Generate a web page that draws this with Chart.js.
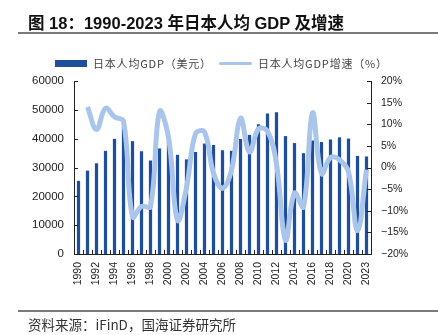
<!DOCTYPE html>
<html>
<head>
<meta charset="utf-8">
<script src="https://cdn.jsdelivr.net/npm/chart.js@4"></script>
<style>
  body { margin: 0; background: #fff; }
  #wrap { position: relative; width: 438px; height: 335px; overflow: hidden; }
  #chart { position: absolute; left: 0; top: 0; }
  #title {
    position: absolute; left: 28px; top: 10px;
    font: bold 16.5px "Liberation Sans", "Noto Sans CJK SC", sans-serif;
    color: #111; white-space: nowrap;
  }
  .rule { position: absolute; left: 18px; right: 0; height: 1.5px; background: #7a7a7a; }
  #legend {
    position: absolute; top: 53px; left: 55px; white-space: nowrap;
    font: 11px "Noto Sans CJK SC", sans-serif; color: #444; letter-spacing: 0.8px;
  }
  #legend span { display: inline-block; vertical-align: middle; }
  .swatch-bar { width: 32px; height: 7px; background: #1f4e9c; margin-right: 6px; }
  .swatch-line { width: 33px; height: 3px; background: #a9c5eb; border-radius: 2px; margin: 0 6px 0 7px; }
  #source {
    position: absolute; left: 28px; top: 314px;
    font: 13.5px "Noto Sans CJK SC", sans-serif; color: #333; white-space: nowrap;
  }
</style>
</head>
<body>
<div id="wrap">
  <canvas id="chart" width="438" height="335"></canvas>
  <div id="title">图 18：1990-2023 年日本人均 GDP 及增速</div>
  <div class="rule" style="top:32px"></div>
  <div id="legend">
    <span class="swatch-bar"></span><span>日本人均GDP（美元）</span><span class="swatch-line"></span><span>日本人均GDP增速（%）</span>
  </div>
  <div class="rule" style="top:310px"></div>
  <div id="source">资料来源：iFinD，国海证券研究所</div>
</div>
<script>
// years on the axis (2021 is not in the series)
const years = ['1990', '1991', '1992', '1993', '1994', '1995', '1996', '1997', '1998', '1999',
  '2000', '2001', '2002', '2003', '2004', '2005', '2006', '2007', '2008', '2009',
  '2010', '2011', '2012', '2013', '2014', '2015', '2016', '2017', '2018', '2019',
  '2020', '2022', '2023'];

// GDP per person, USD
const gdpUsd = [25371, 28925, 31465, 35766, 39934, 44198, 39151, 35636, 32424, 36611,
  39169, 34406, 32821, 35387, 38299, 37813, 35992, 35779, 39876, 41309,
  44968, 48760, 49145, 40898, 38475, 34961, 39375, 38834, 39727, 40458,
  40041, 34017, 33834];

// yearly growth, %
const growthPct = [null, 14.0, 8.8, 13.7, 11.7, 10.7, -11.4, -9.0, -9.0, 12.9,
  7.0, -12.2, -4.6, 7.8, 8.2, -1.3, -4.8, -0.6, 11.4, 3.6,
  8.9, 8.4, 0.8, -16.8, -5.9, -9.1, 12.6, -1.4, 2.3, 1.8,
  -1.0, -14.6, -0.5];

const barColor = '#1f4e9c';
const lineColor = '#a9c5eb';
const axisColor = '#222';

Chart.defaults.font.family = '"Liberation Sans", Arial, sans-serif';
Chart.defaults.color = '#222';

// small tick marks that point into the plot
const innerTicks = {
  id: 'innerTicks',
  afterDraw(chart) {
    const { ctx, chartArea, scales } = chart;
    const { x, y, y1 } = scales;
    ctx.save();
    ctx.strokeStyle = axisColor;
    ctx.lineWidth = 1;
    ctx.beginPath();
    const catW = x.getPixelForValue(1) - x.getPixelForValue(0);
    for (let i = 0; i <= years.length; i++) {
      const px = Math.round(x.getPixelForValue(i) - catW / 2) + 0.5;
      ctx.moveTo(px, chartArea.bottom);
      ctx.lineTo(px, chartArea.bottom - 4);
    }
    y.ticks.forEach((t) => {
      const py = Math.round(y.getPixelForValue(t.value)) + 0.5;
      ctx.moveTo(chartArea.left, py);
      ctx.lineTo(chartArea.left + 4, py);
    });
    y1.ticks.forEach((t) => {
      const py = Math.round(y1.getPixelForValue(t.value)) + 0.5;
      ctx.moveTo(chartArea.right, py);
      ctx.lineTo(chartArea.right - 4, py);
    });
    ctx.stroke();
    ctx.restore();
  }
};

const ctx = document.getElementById('chart').getContext('2d');
new Chart(ctx, {
  data: {
    labels: years,
    datasets: [
      {
        type: 'line',
        label: '日本人均GDP增速（%）',
        data: growthPct,
        yAxisID: 'y1',
        borderColor: lineColor,
        borderWidth: 5,
        pointRadius: 0,
        tension: 0.4,
        order: 0
      },
      {
        type: 'bar',
        label: '日本人均GDP（美元）',
        data: gdpUsd,
        yAxisID: 'y',
        backgroundColor: barColor,
        barPercentage: 0.36,
        categoryPercentage: 1,
        order: 1
      }
    ]
  },
  options: {
    responsive: false,
    animation: false,
    devicePixelRatio: 1,
    layout: { padding: { top: 81, left: 0, right: 0, bottom: 0 } },
    plugins: { legend: { display: false }, tooltip: { enabled: false } },
    scales: {
      x: {
        grid: { display: false, drawTicks: false },
        border: { display: true, color: axisColor, width: 1 },
        ticks: {
          autoSkip: false,
          minRotation: 90,
          maxRotation: 90,
          padding: 8,
          font: { size: 10.5 },
          callback: (val, i) => (i % 2 === 0 ? years[i] : '')
        },
        afterFit: (scale) => { scale.height = 81; }
      },
      y: {
        position: 'left',
        min: 0,
        max: 60000,
        grid: { display: false, drawTicks: false },
        border: { display: true, color: axisColor, width: 1 },
        ticks: {
          stepSize: 10000,
          padding: 10,
          font: { size: 11.5 },
          callback: (v) => String(v)
        },
        afterFit: (scale) => { scale.width = 74; }
      },
      y1: {
        position: 'right',
        min: -20,
        max: 20,
        grid: { display: false, drawTicks: false },
        border: { display: true, color: axisColor, width: 1 },
        ticks: {
          stepSize: 5,
          padding: 10,
          font: { size: 10.5 },
          callback: (v) => (v < 0 ? '\u2212' + Math.abs(v) : v) + '%'
        },
        afterFit: (scale) => { scale.width = 67; }
      }
    }
  },
  plugins: [innerTicks]
});
</script>
</body>
</html>
